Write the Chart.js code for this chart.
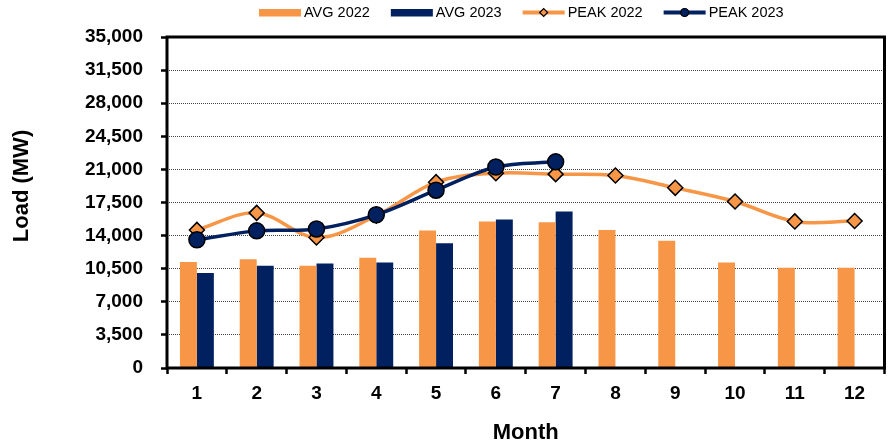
<!DOCTYPE html>
<html lang="en">
<head>
    <meta charset="UTF-8">
    <title>Monthly Load</title>
    <script src="https://cdn.jsdelivr.net/npm/chart.js@4.4.1/dist/chart.umd.min.js"></script>
    <style>
        html, body {
            margin: 0;
            padding: 0;
            background-color: white;
        }
        .chart-container {
            width: 894px;
            height: 446px;
        }
    </style>
</head>
<body>
    <div class="chart-container">
        <canvas id="loadChart"></canvas>
    </div>

    <script>
        const months = ['1', '2', '3', '4', '5', '6', '7', '8', '9', '10', '11', '12'];
        const avg2022 = [11200, 11500, 10800, 11650, 14550, 15500, 15400, 14600, 13450, 11150, 10600, 10600];
        const avg2023 = [10050, 10800, 11050, 11150, 13200, 15700, 16550, null, null, null, null, null];
        const peak2022 = [14600, 16400, 13800, 16100, 19650, 20600, 20500, 20350, 19050, 17600, 15500, 15550];
        const peak2023 = [13550, 14500, 14700, 16200, 18800, 21250, 21800, null, null, null, null, null];

        const ORANGE = '#F79646';
        const NAVY = '#002060';
        const FONT = 'Arial, "Liberation Sans", sans-serif';

        // plot frame, y title and the Excel style legend
        const extras = {
            id: 'extras',
            afterDatasetsDraw(chart) {
                const { ctx, chartArea: a } = chart;
                ctx.save();
                ctx.strokeStyle = '#000';
                ctx.lineWidth = 3;
                ctx.strokeRect(a.left, a.top, a.right - a.left, a.bottom - a.top);
                ctx.restore();
            },
            afterDraw(chart) {
                const ctx = chart.ctx;
                ctx.save();
                ctx.fillStyle = '#000';
                ctx.font = 'bold 22px ' + FONT;
                ctx.textAlign = 'center';
                ctx.textBaseline = 'middle';
                ctx.translate(22, 186);
                ctx.rotate(-Math.PI / 2);
                ctx.fillText('Load (MW)', 0, 0);
                ctx.restore();

                ctx.save();
                ctx.font = '14.5px ' + FONT;
                ctx.textBaseline = 'middle';
                const y = 12.5;
                let x = 259;
                chart.data.datasets.forEach(ds => {
                    const w = 42;
                    if (ds.type === 'line') {
                        ctx.strokeStyle = ds.borderColor;
                        ctx.lineWidth = 4;
                        ctx.beginPath();
                        ctx.moveTo(x, y);
                        ctx.lineTo(x + w, y);
                        ctx.stroke();
                        ctx.fillStyle = ds.pointBackgroundColor;
                        ctx.strokeStyle = '#000';
                        ctx.lineWidth = 1.2;
                        ctx.beginPath();
                        if (ds.pointStyle === 'rectRot') {
                            ctx.moveTo(x + w / 2 - 4, y);
                            ctx.lineTo(x + w / 2, y - 4);
                            ctx.lineTo(x + w / 2 + 4, y);
                            ctx.lineTo(x + w / 2, y + 4);
                            ctx.closePath();
                        } else {
                            ctx.arc(x + w / 2, y, 4, 0, Math.PI * 2);
                        }
                        ctx.fill();
                        ctx.stroke();
                    } else {
                        ctx.fillStyle = ds.backgroundColor;
                        ctx.fillRect(x, y - 3.5, w, 7.5);
                    }
                    ctx.fillStyle = '#000';
                    ctx.fillText(ds.label, x + w + 3, y);
                    x += w + 3 + ctx.measureText(ds.label).width + 21;
                });
                ctx.restore();
            }
        };

        const chart = new Chart(document.getElementById('loadChart'), {
            type: 'bar',
            data: {
                labels: months,
                datasets: [
                    {
                        type: 'bar',
                        label: 'AVG 2022',
                        data: avg2022,
                        backgroundColor: ORANGE,
                        order: 2
                    },
                    {
                        type: 'bar',
                        label: 'AVG 2023',
                        data: avg2023,
                        backgroundColor: NAVY,
                        order: 3
                    },
                    {
                        type: 'line',
                        label: 'PEAK 2022',
                        data: peak2022,
                        borderColor: ORANGE,
                        borderWidth: 3.5,
                        tension: 0.35,
                        pointStyle: 'rectRot',
                        pointRadius: 7.5,
                        pointBackgroundColor: ORANGE,
                        pointBorderColor: '#000',
                        pointBorderWidth: 1.5,
                        order: 1
                    },
                    {
                        type: 'line',
                        label: 'PEAK 2023',
                        data: peak2023,
                        borderColor: NAVY,
                        borderWidth: 3.5,
                        tension: 0.35,
                        pointStyle: 'circle',
                        pointRadius: 8,
                        pointBackgroundColor: NAVY,
                        pointBorderColor: '#000',
                        pointBorderWidth: 1.5,
                        order: 0
                    }
                ]
            },
            options: {
                responsive: true,
                maintainAspectRatio: false,
                animation: false,
                layout: {
                    padding: { top: 37, right: 1, bottom: 0, left: 0 }
                },
                datasets: {
                    bar: {
                        categoryPercentage: 0.567,
                        barPercentage: 1.0
                    }
                },
                plugins: {
                    legend: { display: false },
                    tooltip: { enabled: false }
                },
                scales: {
                    x: {
                        afterFit: scale => { scale.height = 78; },
                        grid: {
                            offset: true,
                            drawOnChartArea: false,
                            drawTicks: true,
                            tickLength: 6,
                            tickWidth: 2.5,
                            tickColor: '#000'
                        },
                        border: { display: false },
                        ticks: {
                            color: '#000',
                            padding: 8,
                            font: { family: FONT, size: 19, weight: 'bold' }
                        },
                        title: {
                            display: true,
                            text: 'Month',
                            color: '#000',
                            padding: { top: 0, bottom: 0 },
                            font: { family: FONT, size: 22, weight: 'bold' }
                        }
                    },
                    y: {
                        min: 0,
                        max: 35000,
                        afterFit: scale => { scale.width = 167; },
                        grid: {
                            color: '#444',
                            lineWidth: 1,
                            drawTicks: true,
                            tickLength: 6,
                            tickWidth: 2.5,
                            tickColor: '#000'
                        },
                        border: { display: false, dash: [1, 1] },
                        ticks: {
                            stepSize: 3500,
                            color: '#000',
                            padding: 18,
                            font: { family: FONT, size: 19, weight: 'bold' },
                            callback: v => v.toLocaleString('en-US')
                        }
                    }
                }
            },
            plugins: [extras]
        });
    </script>
</body>
</html>
